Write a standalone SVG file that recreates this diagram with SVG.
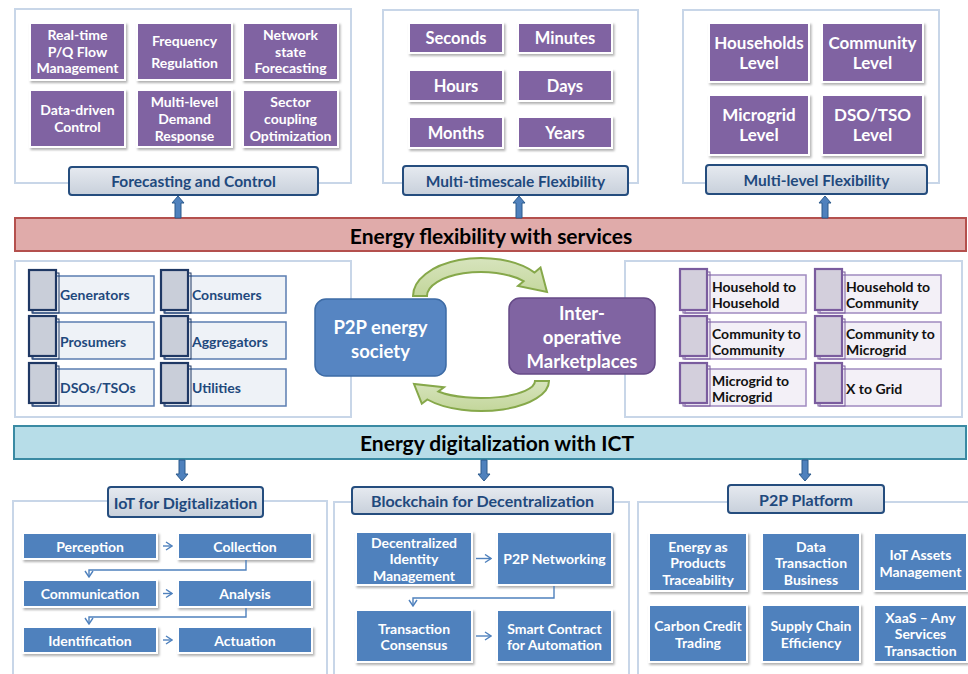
<svg xmlns="http://www.w3.org/2000/svg" width="968" height="674" viewBox="0 0 968 674">
<defs>
<filter id="sh" x="-10%" y="-10%" width="125%" height="130%"><feDropShadow dx="1.5" dy="2" stdDeviation="1.3" flood-color="#000" flood-opacity="0.3"/></filter>
<linearGradient id="lg" x1="0" y1="0" x2="0" y2="1"><stop offset="0" stop-color="#E6EAF0"/><stop offset="1" stop-color="#C8D0DB"/></linearGradient>
<linearGradient id="gg" x1="0" y1="0" x2="0" y2="1"><stop offset="0" stop-color="#D7E4BD"/><stop offset="1" stop-color="#C3D69B"/></linearGradient>
<marker id="chev" viewBox="0 0 8 10" refX="7" refY="5" markerWidth="8" markerHeight="10" markerUnits="userSpaceOnUse" orient="auto"><path d="M1,1 L7,5 L1,9" fill="none" stroke="#4F81BD" stroke-width="1.4"/></marker>
<style>
text{font-family:Lato,"Open Sans","Liberation Sans",sans-serif;font-weight:700;text-anchor:middle;dominant-baseline:central}
.panel{fill:#fff;stroke:#C8D6E8;stroke-width:2}
.pbox{fill:#8064A2;stroke:#fff;stroke-width:2;filter:url(#sh)}
.bbox{fill:#4F81BD;stroke:#fff;stroke-width:2;filter:url(#sh)}
.wt{fill:#fff;font-size:14px}
.wt16{fill:#fff;font-size:16.5px}
.wt17{fill:#fff;font-size:17px}
.lbl{fill:url(#lg);stroke:#254D7E;stroke-width:2}
.lt{fill:#1F497D;font-size:15.5px}
.bt{fill:#000;font-size:21px}
.ba{fill:#4F81BD;stroke:#2C5A8C;stroke-width:1}
.conn{stroke:#4F81BD;stroke-width:1.4;fill:none;marker-end:url(#chev)}
.sq{fill:#C9CED9;stroke:#1F3864;stroke-width:2.2}
.sqs{fill:none;stroke:#1F3864;stroke-width:1}
.ir{fill:#EEF2F7;stroke:#5B7DB1;stroke-width:1.5}
.psq{fill:#D3CFDC;stroke:#7A5C9E;stroke-width:2.2}
.psqs{fill:none;stroke:#7A5C9E;stroke-width:1}
.pir{fill:#F3F0F7;stroke:#A08BC0;stroke-width:1.5}
.it{fill:#1F497D;font-size:14px;text-anchor:start}
.pit{fill:#111;font-size:14px;text-anchor:start}
.big{fill:#fff;font-size:18.5px}
.garr{fill:url(#gg);stroke:#86A84A;stroke-width:2}
</style>
</defs>

<!-- Top-left panel -->
<g id="forecasting-control">
<rect class="panel" x="15" y="9" width="336" height="174"/>
<rect class="pbox" x="30" y="23" width="95" height="57"/>
<rect class="pbox" x="137" y="23" width="95" height="57"/>
<rect class="pbox" x="243" y="23" width="95" height="57"/>
<rect class="pbox" x="30" y="90" width="95" height="57"/>
<rect class="pbox" x="137" y="90" width="95" height="57"/>
<rect class="pbox" x="243" y="90" width="95" height="57"/>
<text class="wt" x="77.5" y="34">Real-time</text><text class="wt" x="77.5" y="51">P/Q Flow</text><text class="wt" x="77.5" y="67">Management</text>
<text class="wt" x="184.5" y="40">Frequency</text><text class="wt" x="184.5" y="62">Regulation</text>
<text class="wt" x="290.5" y="34">Network</text><text class="wt" x="290.5" y="51">state</text><text class="wt" x="290.5" y="67">Forecasting</text>
<text class="wt" x="77.5" y="109">Data-driven</text><text class="wt" x="77.5" y="126">Control</text>
<text class="wt" x="184.5" y="101">Multi-level</text><text class="wt" x="184.5" y="118">Demand</text><text class="wt" x="184.5" y="135">Response</text>
<text class="wt" x="290.5" y="101">Sector</text><text class="wt" x="290.5" y="118">coupling</text><text class="wt" x="290.5" y="135">Optimization</text>
<rect class="lbl" x="69" y="167" width="249" height="28" rx="3"/>
<text class="lt" x="193.5" y="181">Forecasting and Control</text>
</g>

<!-- Top-middle panel -->
<g id="multi-timescale">
<rect class="panel" x="383" y="10" width="255" height="173"/>
<rect class="pbox" x="409" y="23" width="94" height="30"/>
<rect class="pbox" x="518" y="23" width="94" height="30"/>
<rect class="pbox" x="409" y="70" width="94" height="31"/>
<rect class="pbox" x="518" y="70" width="94" height="31"/>
<rect class="pbox" x="409" y="117" width="94" height="31"/>
<rect class="pbox" x="518" y="117" width="94" height="31"/>
<text class="wt16" x="456" y="38">Seconds</text><text class="wt16" x="565" y="38">Minutes</text>
<text class="wt16" x="456" y="85.5">Hours</text><text class="wt16" x="565" y="85.5">Days</text>
<text class="wt16" x="456" y="132.5">Months</text><text class="wt16" x="565" y="132.5">Years</text>
<rect class="lbl" x="403" y="166" width="225" height="29" rx="3"/>
<text class="lt" x="515.5" y="180.5">Multi-timescale Flexibility</text>
</g>

<!-- Top-right panel -->
<g id="multi-level">
<rect class="panel" x="683" y="10" width="256" height="173"/>
<rect class="pbox" x="709" y="23" width="100" height="59"/>
<rect class="pbox" x="822" y="23" width="101" height="59"/>
<rect class="pbox" x="709" y="95" width="100" height="60"/>
<rect class="pbox" x="822" y="95" width="101" height="60"/>
<text class="wt17" x="759" y="42">Households</text><text class="wt17" x="759" y="62">Level</text>
<text class="wt17" x="872.5" y="42">Community</text><text class="wt17" x="872.5" y="62">Level</text>
<text class="wt17" x="759" y="114">Microgrid</text><text class="wt17" x="759" y="134">Level</text>
<text class="wt17" x="872.5" y="114">DSO/TSO</text><text class="wt17" x="872.5" y="134">Level</text>
<rect class="lbl" x="706" y="165" width="221" height="29" rx="3"/>
<text class="lt" x="816.5" y="179.5">Multi-level Flexibility</text>
</g>

<!-- Red banner -->
<g id="energy-flexibility">
<rect x="15" y="218" width="951" height="33" fill="#E0ABAA" stroke="#B4504D" stroke-width="2"/>
<text class="bt" x="491" y="235">Energy flexibility with services</text>
</g>

<!-- Middle-left panel -->
<g id="participants">
<rect class="panel" x="15" y="261" width="336" height="156"/>
<rect class="ir" x="33" y="276" width="121" height="37"/><rect class="sqs" x="32" y="273" width="27" height="40"/><rect class="sq" x="29" y="270" width="27" height="40"/>
<rect class="ir" x="165" y="276" width="121" height="37"/><rect class="sqs" x="164" y="273" width="27" height="40"/><rect class="sq" x="161" y="270" width="27" height="40"/>
<rect class="ir" x="33" y="322" width="121" height="37"/><rect class="sqs" x="32" y="319" width="27" height="40"/><rect class="sq" x="29" y="316" width="27" height="40"/>
<rect class="ir" x="165" y="322" width="121" height="37"/><rect class="sqs" x="164" y="319" width="27" height="40"/><rect class="sq" x="161" y="316" width="27" height="40"/>
<rect class="ir" x="33" y="369" width="121" height="37"/><rect class="sqs" x="32" y="366" width="27" height="40"/><rect class="sq" x="29" y="363" width="27" height="40"/>
<rect class="ir" x="165" y="369" width="121" height="37"/><rect class="sqs" x="164" y="366" width="27" height="40"/><rect class="sq" x="161" y="363" width="27" height="40"/>
<text class="it" x="60" y="294">Generators</text><text class="it" x="192" y="294">Consumers</text>
<text class="it" x="60" y="341">Prosumers</text><text class="it" x="192" y="341">Aggregators</text>
<text class="it" x="60" y="387">DSOs/TSOs</text><text class="it" x="192" y="387">Utilities</text>
</g>

<!-- Middle-right panel -->
<g id="trading-levels">
<rect class="panel" x="625" y="261" width="337" height="156"/>
<rect class="pir" x="685" y="275" width="121" height="38"/><rect class="psqs" x="683" y="272" width="27" height="41"/><rect class="psq" x="680" y="269" width="27" height="41"/>
<rect class="pir" x="820" y="275" width="121" height="38"/><rect class="psqs" x="818" y="272" width="27" height="41"/><rect class="psq" x="815" y="269" width="27" height="41"/>
<rect class="pir" x="685" y="322" width="121" height="37"/><rect class="psqs" x="683" y="319" width="27" height="40"/><rect class="psq" x="680" y="316" width="27" height="40"/>
<rect class="pir" x="820" y="322" width="121" height="37"/><rect class="psqs" x="818" y="319" width="27" height="40"/><rect class="psq" x="815" y="316" width="27" height="40"/>
<rect class="pir" x="685" y="369" width="121" height="37"/><rect class="psqs" x="683" y="366" width="27" height="40"/><rect class="psq" x="680" y="363" width="27" height="40"/>
<rect class="pir" x="820" y="369" width="121" height="37"/><rect class="psqs" x="818" y="366" width="27" height="40"/><rect class="psq" x="815" y="363" width="27" height="40"/>
<text class="pit" x="712" y="286">Household to</text><text class="pit" x="712" y="302">Household</text>
<text class="pit" x="846" y="286">Household to</text><text class="pit" x="846" y="302">Community</text>
<text class="pit" x="712" y="333">Community to</text><text class="pit" x="712" y="349">Community</text>
<text class="pit" x="846" y="333">Community to</text><text class="pit" x="846" y="349">Microgrid</text>
<text class="pit" x="712" y="380">Microgrid to</text><text class="pit" x="712" y="396">Microgrid</text>
<text class="pit" x="846" y="388">X to Grid</text>
</g>

<!-- Center nodes -->
<g id="p2p-society">
<rect x="315" y="299" width="131" height="77" rx="11" fill="#5685C2" stroke="#3D6BA5" stroke-width="1.5"/>
<text class="big" x="380.5" y="327">P2P energy</text><text class="big" x="380.5" y="351">society</text>
</g>
<g id="marketplaces">
<rect x="509" y="298" width="146" height="76" rx="11" fill="#8064A2" stroke="#654A87" stroke-width="1.5"/>
<text class="big" x="582" y="313">Inter-</text><text class="big" x="582" y="337">operative</text><text class="big" x="582" y="361">Marketplaces</text>
</g>

<!-- Cyan banner -->
<g id="energy-digitalization">
<rect x="14" y="426" width="952" height="33" fill="#B7DDE8" stroke="#3A8AA3" stroke-width="2"/>
<text class="bt" x="497" y="442">Energy digitalization with ICT</text>
</g>

<!-- Bottom-left panel -->
<g id="iot">
<rect class="panel" x="13" y="501" width="314" height="185"/>
<rect class="bbox" x="23" y="533" width="134" height="26"/>
<rect class="bbox" x="178" y="533" width="134" height="26"/>
<rect class="bbox" x="23" y="580" width="134" height="27"/>
<rect class="bbox" x="178" y="580" width="134" height="27"/>
<rect class="bbox" x="23" y="627" width="134" height="26"/>
<rect class="bbox" x="178" y="627" width="134" height="26"/>
<text class="wt" x="90" y="546">Perception</text><text class="wt" x="245" y="546">Collection</text>
<text class="wt" x="90" y="593.5">Communication</text><text class="wt" x="245" y="593.5">Analysis</text>
<text class="wt" x="90" y="640">Identification</text><text class="wt" x="245" y="640">Actuation</text>
<rect class="lbl" x="108" y="487" width="155" height="30" rx="3"/>
<text class="lt" x="185.5" y="502" style="font-size:16px">IoT for Digitalization</text>
</g>

<!-- Bottom-middle panel -->
<g id="blockchain">
<rect class="panel" x="334" y="502" width="295" height="184"/>
<rect class="bbox" x="356" y="532" width="116" height="53"/>
<rect class="bbox" x="497" y="532" width="115" height="53"/>
<rect class="bbox" x="356" y="610" width="116" height="52"/>
<rect class="bbox" x="497" y="610" width="115" height="52"/>
<text class="wt" x="414" y="542">Decentralized</text><text class="wt" x="414" y="558.5">Identity</text><text class="wt" x="414" y="575">Management</text>
<text class="wt" x="554.5" y="558.5">P2P Networking</text>
<text class="wt" x="414" y="628">Transaction</text><text class="wt" x="414" y="644">Consensus</text>
<text class="wt" x="554.5" y="628">Smart Contract</text><text class="wt" x="554.5" y="644">for Automation</text>
<rect class="lbl" x="352" y="487" width="261" height="27" rx="3"/>
<text class="lt" x="482.5" y="500.5" style="font-size:16px">Blockchain for Decentralization</text>
</g>

<!-- Bottom-right panel -->
<g id="p2p-platform">
<rect class="panel" x="638" y="502" width="340" height="184"/>
<rect class="bbox" x="649" y="533" width="98" height="58"/>
<rect class="bbox" x="762" y="533" width="98" height="58"/>
<rect class="bbox" x="874" y="533" width="93" height="58"/>
<rect class="bbox" x="649" y="605" width="98" height="57"/>
<rect class="bbox" x="762" y="605" width="98" height="57"/>
<rect class="bbox" x="874" y="605" width="93" height="57"/>
<text class="wt" x="698" y="546">Energy as</text><text class="wt" x="698" y="562.5">Products</text><text class="wt" x="698" y="579">Traceability</text>
<text class="wt" x="811" y="546">Data</text><text class="wt" x="811" y="562.5">Transaction</text><text class="wt" x="811" y="579">Business</text>
<text class="wt" x="920.5" y="554">IoT Assets</text><text class="wt" x="920.5" y="571">Management</text>
<text class="wt" x="698" y="625">Carbon Credit</text><text class="wt" x="698" y="642">Trading</text>
<text class="wt" x="811" y="625">Supply Chain</text><text class="wt" x="811" y="642">Efficiency</text>
<text class="wt" x="920.5" y="617">XaaS – Any</text><text class="wt" x="920.5" y="633.5">Services</text><text class="wt" x="920.5" y="650">Transaction</text>
<rect class="lbl" x="728" y="485" width="156" height="28" rx="3"/>
<text class="lt" x="806" y="499" style="font-size:16px">P2P Platform</text>
</g>

<!-- Connectors -->
<g id="connectors">
<path class="ba" d="M175,218 V203 H172 L178,196 L184,203 H181 V218 Z"/>
<path class="ba" d="M516,218 V203 H513 L519,196 L525,203 H522 V218 Z"/>
<path class="ba" d="M822,218 V203 H819 L825,196 L831,203 H828 V218 Z"/>
<path class="ba" d="M179,460 V474 H176 L182,481 L188,474 H185 V460 Z"/>
<path class="ba" d="M481,460 V474 H478 L484,481 L490,474 H487 V460 Z"/>
<path class="ba" d="M802,460 V474 H799 L805,481 L811,474 H808 V460 Z"/>
<path class="garr" d="M413,296 A68,38 0 0 1 534.6,272.6 L540.5,267.5 L547,292 L518,286 L523.6,281.2 A54,24 0 0 0 427,296 Z"/>
<path class="garr" d="M549,381 A68,30 0 0 1 427.4,399.5 L421.8,403.7 L414,384 L444,387.3 L438.4,391.5 A54,17 0 0 0 535,381 Z"/>
<path class="conn" d="M163,546 H172"/>
<path class="conn" d="M163,593.5 H172"/>
<path class="conn" d="M163,640 H172"/>
<path class="conn" d="M246,560 V570 H89 V577"/>
<path class="conn" d="M246,608 V617 H89 V624"/>
<path class="conn" d="M476,558.5 H491"/>
<path class="conn" d="M476,636 H491"/>
<path class="conn" d="M554,586 V598 H413 V606"/>
</g>
</svg>
